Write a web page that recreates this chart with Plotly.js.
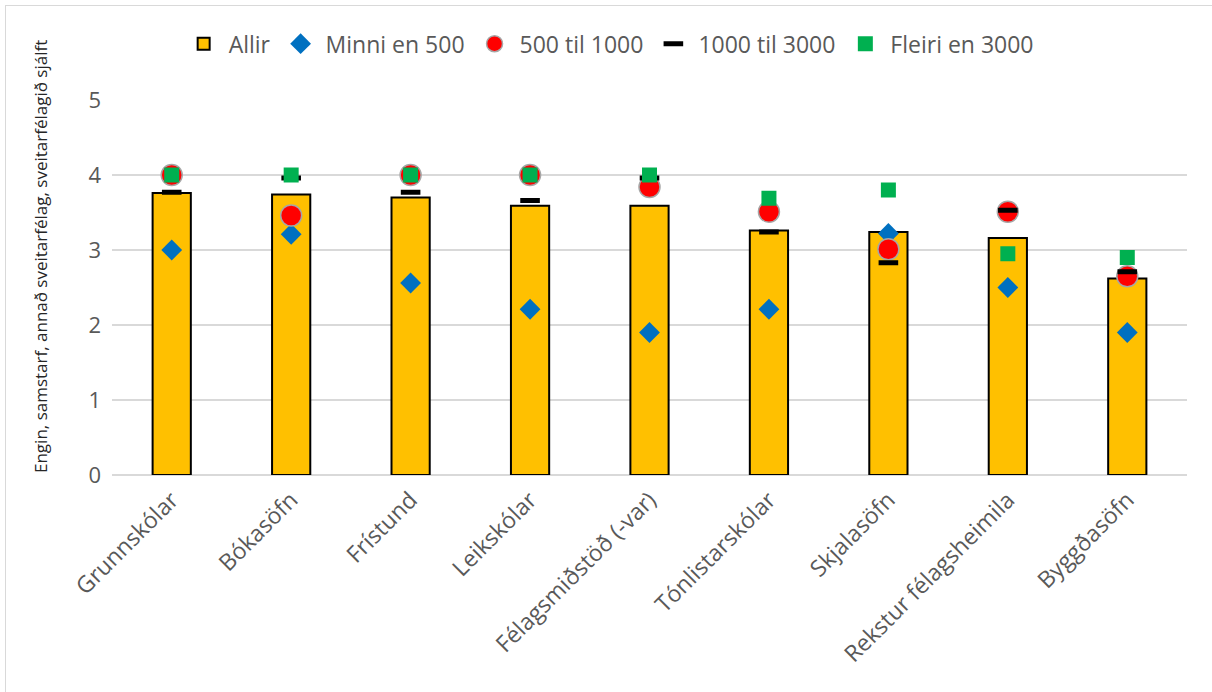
<!DOCTYPE html>
<html>
<head>
<meta charset="utf-8">
<script src="https://cdn.plot.ly/plotly-3.0.1.min.js"></script>
<style>
html,body{margin:0;padding:0;background:#fff;overflow:hidden;}
#chart{width:1212px;height:692px;position:absolute;left:0;top:0;}
#frame{position:absolute;left:5px;top:5px;width:1400px;height:900px;border:1.5px solid #d9d9d9;pointer-events:none;}
</style>
</head>
<body>
<div id="chart"></div>
<div id="frame"></div>
<script>
const categories = ["Grunnskólar","Bókasöfn","Frístund","Leikskólar","Félagsmiðstöð (-var)","Tónlistarskólar","Skjalasöfn","Rekstur félagsheimila","Byggðasöfn"];
const allir      = [3.76, 3.74, 3.70, 3.59, 3.59, 3.26, 3.24, 3.16, 2.62];
const minni500   = [3.00, 3.21, 2.56, 2.21, 1.90, 2.21, 3.22, 2.50, 1.90];
const til1000    = [4.00, 3.46, 4.00, 4.00, 3.84, 3.51, 3.01, 3.51, 2.65];
const til3000    = [3.77, 3.96, 3.77, 3.66, 3.96, 3.24, 2.83, 3.53, 2.71];
const fleiri3000 = [4.00, 4.00, 4.00, 4.00, 4.00, 3.69, 3.80, 2.95, 2.90];
const seriesNames = ["Allir","Minni en 500","500 til 1000","1000 til 3000","Fleiri en 3000"];
const yTitle = "Engin, samstarf, annað sveitarfélag, sveitarfélagið sjálft";

const traces = [
  {type:'bar', name:seriesNames[0], x:categories, y:allir, width:0.32,
   marker:{color:'#FFC000', line:{color:'#000000', width:2}}},
  {type:'scatter', mode:'markers', name:seriesNames[1], x:categories, y:minni500,
   marker:{symbol:'diamond', size:16, color:'#0070C0'}},
  {type:'scatter', mode:'markers', name:seriesNames[2], x:categories, y:til1000,
   marker:{symbol:'circle', size:21, color:'#FF0000', line:{color:'#A6A6A6', width:1.5}}},
  {type:'scatter', mode:'markers', name:seriesNames[3], x:categories, y:til3000,
   marker:{symbol:'line-ew', size:14, color:'#000000', line:{color:'#000000', width:5}}},
  {type:'scatter', mode:'markers', name:seriesNames[4], x:categories, y:fleiri3000,
   marker:{symbol:'square', size:15, color:'#00B050'}}
];

const layout = {
  width:1212, height:692,
  margin:{l:112, r:25, t:100, b:217},
  paper_bgcolor:'rgba(0,0,0,0)', plot_bgcolor:'rgba(0,0,0,0)',
  showlegend:true,
  legend:{orientation:'h', x:0.462, xanchor:'center', y:1.15, yanchor:'middle',
          font:{family:'Open Sans', size:23, color:'#595959'}, itemwidth:40, traceorder:'normal'},
  xaxis:{type:'category', range:[-0.5, 8.5], tickangle:-45, showgrid:false, zeroline:false, showline:false,
         tickfont:{family:'Open Sans', size:23, color:'#595959'}, ticks:'', ticklabelstandoff:6},
  yaxis:{range:[0,5], dtick:1, tick0:0, showgrid:true, gridcolor:'#D9D9D9', gridwidth:1.5,
         zeroline:true, zerolinecolor:'#D9D9D9', zerolinewidth:2, showline:false, ticks:'',
         tickfont:{family:'Open Sans', size:22, color:'#595959'}, ticklabelstandoff:10},
  annotations:[{text:yTitle, textangle:-90, xref:'paper', yref:'paper',
                x:-72/1075, y:(475-257)/375, xanchor:'center', yanchor:'middle', showarrow:false,
                font:{family:'Open Sans', size:17, color:'#262626'}}]
};

Plotly.newPlot('chart', traces, layout, {displayModeBar:false, staticPlot:true});
</script>
</body>
</html>
